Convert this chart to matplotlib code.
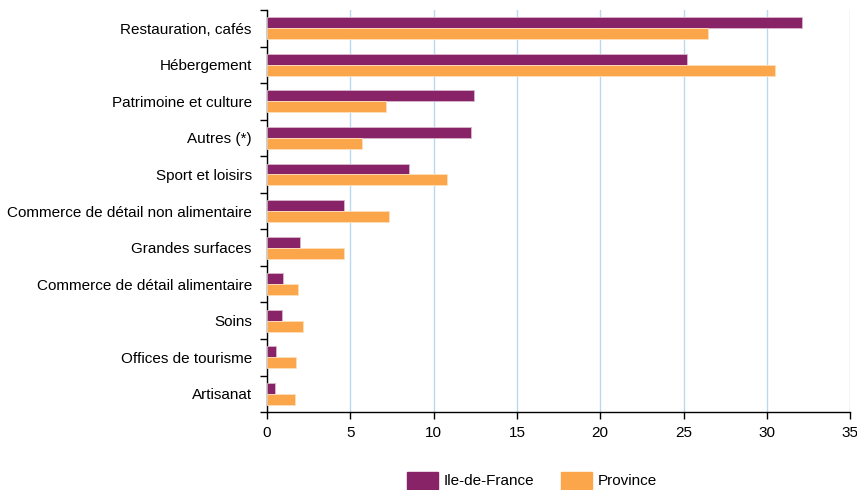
import numpy as np
import matplotlib.pyplot as plt
from matplotlib.patches import Patch

plt.rcParams['font.family'] = ['Liberation Sans', 'DejaVu Sans']

categories = ['Restauration, cafés', 'Hébergement', 'Patrimoine et culture', 'Autres (*)',
              'Sport et loisirs', 'Commerce de détail non alimentaire', 'Grandes surfaces',
              'Commerce de détail alimentaire', 'Soins', 'Offices de tourisme', 'Artisanat']
idf = [32.1, 25.2, 12.45, 12.25, 8.5, 4.6, 2.0, 0.95, 0.9, 0.55, 0.5]
province = [26.45, 30.5, 7.15, 5.7, 10.8, 7.35, 4.6, 1.85, 2.15, 1.75, 1.65]
xticks = [0, 5, 10, 15, 20, 25, 30, 35]

c_idf = '#872366'
c_prov = '#fba64a'

fig = plt.figure(figsize=(8.57, 4.9), dpi=100)
ax = fig.add_axes([0.3116, 0.159, 0.6804, 0.8206])

y = np.arange(len(categories))
h = 0.3
ax.barh(y - h / 2, idf, height=h, color=c_idf, edgecolor='#d9b8cc', linewidth=0.6, zorder=3)
ax.barh(y + h / 2, province, height=h, color=c_prov, edgecolor='#fde0bd', linewidth=0.6, zorder=3)

ax.set_ylim(len(categories) - 0.5, -0.5)
ax.set_xlim(0, 35)
ax.set_yticks(y)
ax.set_yticklabels(categories, fontsize=11)
ax.set_yticks(np.arange(len(categories) + 1) - 0.5, minor=True)
ax.tick_params(axis='y', which='major', length=0, pad=11)
ax.tick_params(axis='y', which='minor', length=5, width=1, direction='out')
ax.set_xticks(xticks)
ax.set_xticklabels([str(t) for t in xticks], fontsize=11)
ax.tick_params(axis='x', length=5, width=1, direction='out', pad=5)

ax.grid(axis='x', color='#b9d9ee', linewidth=1, zorder=0)
for s in ['top', 'right']:
    ax.spines[s].set_visible(False)
ax.spines['left'].set_linewidth(1)
ax.spines['bottom'].set_linewidth(1)

handles = [Patch(color=c_idf, label='Ile-de-France'), Patch(color=c_prov, label='Province')]
fig.legend(handles=handles, loc='center', bbox_to_anchor=(0.621, 0.02), ncol=2,
           frameon=False, fontsize=11, handlelength=2.0, handleheight=1.3,
           columnspacing=1.75, handletextpad=0.4, borderpad=0, borderaxespad=0)

fig.savefig('out.png', dpi=100)
